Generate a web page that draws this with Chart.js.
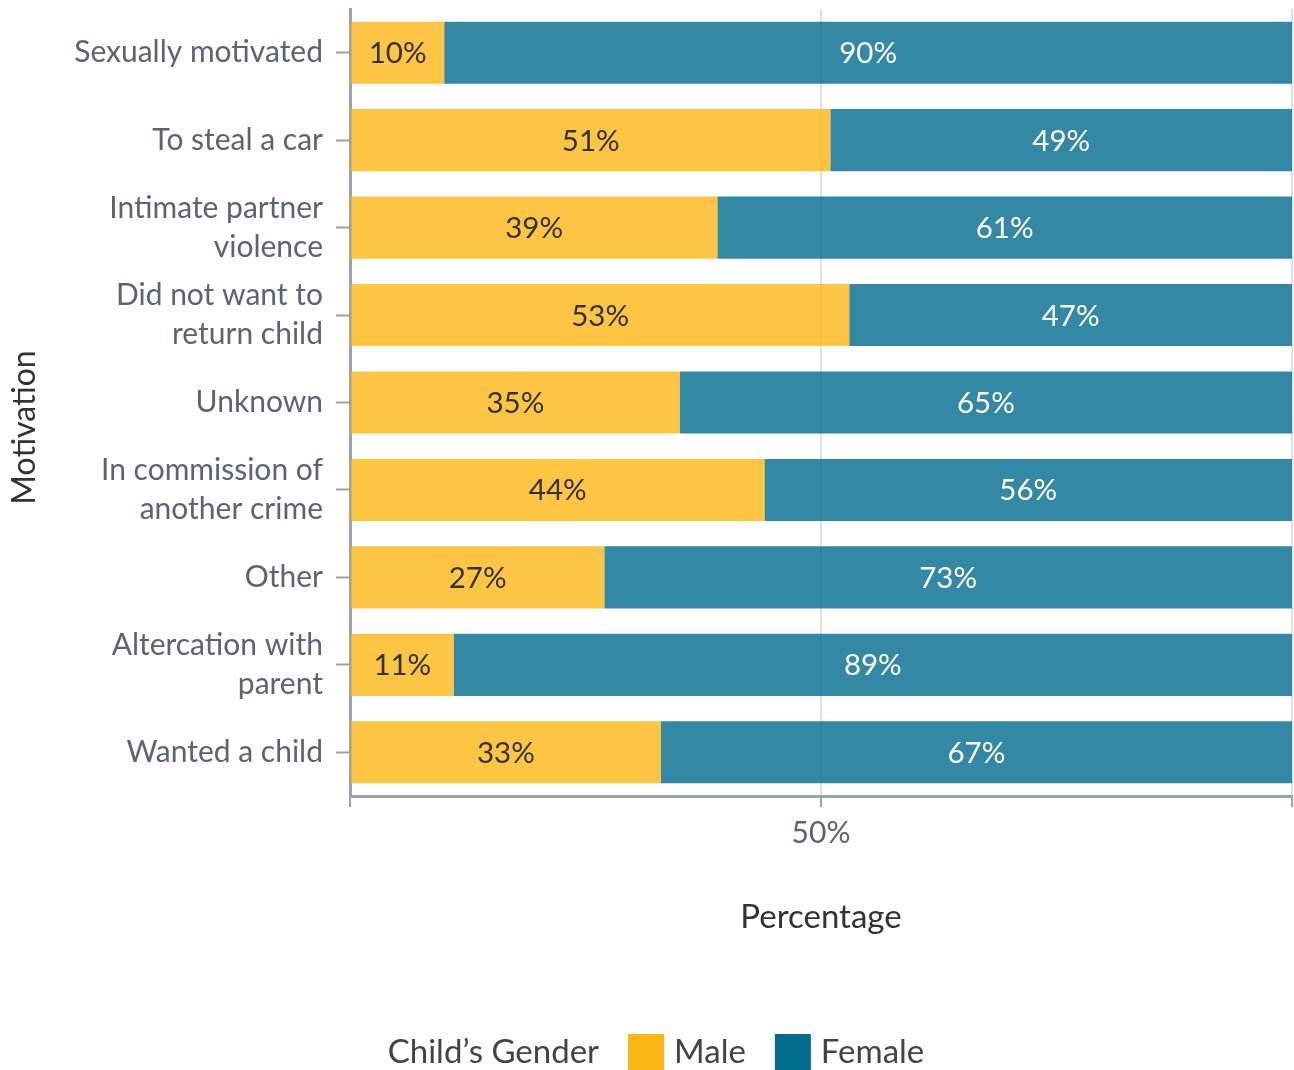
<!DOCTYPE html>
<html>
<head>
<meta charset="utf-8">
<title>Motivation by child's gender</title>
<script src="https://cdn.jsdelivr.net/npm/chart.js@4.4.1/dist/chart.umd.min.js"></script>
<style>
    html, body { margin: 0; padding: 0; background: #fff; }
    #wrap { width: 1294px; height: 1070px; }
</style>
</head>
<body>
<div id="wrap"><canvas id="chart"></canvas></div>
<script>
const motivations = [
    'Sexually motivated',
    'To steal a car',
    ['Intimate partner', 'violence'],
    ['Did not want to', 'return child'],
    'Unknown',
    ['In commission of', 'another crime'],
    'Other',
    ['Altercation with', 'parent'],
    'Wanted a child'
];
const male = [10, 51, 39, 53, 35, 44, 27, 11, 33];
const female = [90, 49, 61, 47, 65, 56, 73, 89, 67];
const labeledTicks = [50];

const FONT = 'Lato';
const TICK_COLOR = '#5a6377';
const AXIS_COLOR = '#9aa2af';

// Percentages written in the middle of each bar segment
const barLabels = {
    id: 'barLabels',
    afterDatasetsDraw(chart) {
        const ctx = chart.ctx;
        ctx.save();
        ctx.font = '29.5px ' + FONT;
        ctx.textAlign = 'center';
        ctx.textBaseline = 'middle';
        chart.data.datasets.forEach((ds, i) => {
            chart.getDatasetMeta(i).data.forEach((bar, j) => {
                const p = bar.getProps(['x', 'y', 'base'], true);
                ctx.fillStyle = ds.labelColor;
                ctx.fillText(ds.data[j] + '%', (p.x + p.base) / 2, p.y + 1);
            });
        });
        ctx.restore();
    }
};

// Y axis title and the inline legend at the bottom
const extras = {
    id: 'extras',
    afterDraw(chart) {
        const ctx = chart.ctx;
        const area = chart.chartArea;
        ctx.save();

        ctx.font = '32px ' + FONT;
        ctx.fillStyle = '#333';
        ctx.textAlign = 'center';
        ctx.textBaseline = 'middle';
        ctx.translate(25, (area.top + area.bottom) / 2 + 25);
        ctx.rotate(-Math.PI / 2);
        ctx.fillText('Motivation', 0, 0);
        ctx.setTransform(1, 0, 0, 1, 0, 0);

        ctx.font = '33px ' + FONT;
        ctx.textAlign = 'left';
        const title = 'Child’s Gender';
        const box = 36;
        const items = chart.data.datasets.map(ds => ({ text: ds.label, color: ds.legendColor }));
        let total = ctx.measureText(title).width;
        items.forEach(it => { total += 29 + box + 10 + ctx.measureText(it.text).width; });
        let x = 656 - total / 2;
        const y = 1052;
        ctx.fillStyle = '#444';
        ctx.fillText(title, x, y);
        x += ctx.measureText(title).width + 29;
        items.forEach(it => {
            ctx.fillStyle = it.color;
            ctx.fillRect(x, y - box / 2, box, box);
            x += box + 10;
            ctx.fillStyle = '#444';
            ctx.fillText(it.text, x, y);
            x += ctx.measureText(it.text).width + 29;
        });
        ctx.restore();
    }
};

const data = {
    labels: motivations,
    datasets: [
        {
            label: 'Male',
            data: male,
            backgroundColor: 'rgba(253, 183, 20, 0.8)',
            legendColor: '#fdb714',
            labelColor: '#333',
            barPercentage: 0.71,
            categoryPercentage: 1
        },
        {
            label: 'Female',
            data: female,
            backgroundColor: 'rgba(0, 108, 142, 0.8)',
            legendColor: '#006c8e',
            labelColor: '#fff',
            barPercentage: 0.71,
            categoryPercentage: 1
        }
    ]
};

const config = {
    type: 'bar',
    data: data,
    options: {
        indexAxis: 'y',
        responsive: true,
        maintainAspectRatio: false,
        animation: false,
        layout: {
            padding: { top: 9, right: 2, bottom: 100, left: 0 }
        },
        scales: {
            x: {
                stacked: true,
                min: 0,
                max: 100,
                ticks: {
                    stepSize: 50,
                    maxRotation: 0,
                    padding: 8,
                    color: TICK_COLOR,
                    font: { family: FONT, size: 30 },
                    callback: v => labeledTicks.includes(v) ? v + '%' : ''
                },
                grid: {
                    color: '#dde0e8',
                    lineWidth: 2,
                    tickLength: 11,
                    tickColor: AXIS_COLOR,
                    tickWidth: 2
                },
                border: { color: AXIS_COLOR, width: 3 },
                title: {
                    display: true,
                    text: 'Percentage',
                    color: '#333',
                    font: { family: FONT, size: 33 },
                    padding: { top: 0, bottom: 33 }
                },
                afterFit(scale) {
                    scale.height = 174;
                    scale.paddingLeft = 0;
                    scale.paddingRight = 0;
                }
            },
            y: {
                stacked: true,
                ticks: {
                    padding: 13,
                    color: TICK_COLOR,
                    font: { family: FONT, size: 30, lineHeight: 1.3 }
                },
                grid: {
                    offset: false,
                    drawOnChartArea: false,
                    tickLength: 14,
                    tickColor: AXIS_COLOR,
                    tickWidth: 2
                },
                border: { color: AXIS_COLOR, width: 3 },
                afterFit(scale) {
                    scale.width = 350;
                    scale.paddingTop = 0;
                    scale.paddingBottom = 0;
                }
            }
        },
        plugins: {
            legend: { display: false },
            tooltip: { enabled: false }
        }
    },
    plugins: [barLabels, extras]
};

const ctx = document.getElementById('chart').getContext('2d');
const chart = new Chart(ctx, config);
</script>
</body>
</html>
